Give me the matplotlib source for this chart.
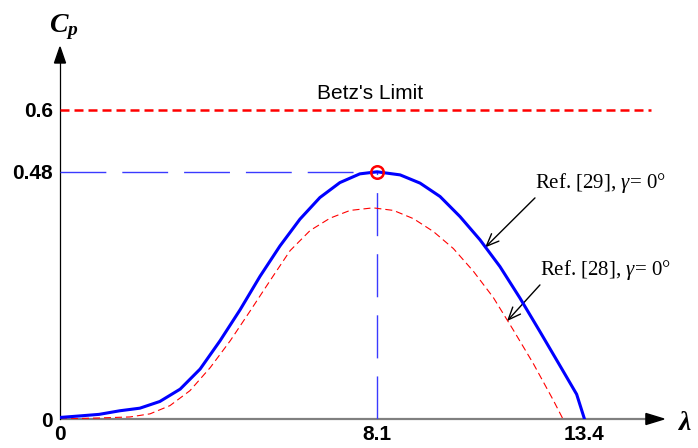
import matplotlib
matplotlib.use("Agg")
import matplotlib.pyplot as plt

plt.rcParams["mathtext.fontset"] = "custom"
plt.rcParams["mathtext.rm"] = "Liberation Serif"
plt.rcParams["mathtext.it"] = "Liberation Serif:italic"
plt.rcParams["mathtext.bf"] = "Liberation Serif:bold:italic"

# power coefficient vs tip speed ratio
tsr_29 = [0, 0.51, 1.0, 1.53, 2.04, 2.55, 3.07, 3.58, 4.09, 4.60, 5.11, 5.62,
          6.13, 6.64, 7.15, 7.66, 8.1, 8.69, 9.20, 9.71, 10.22, 10.73, 11.24,
          11.75, 12.26, 12.77, 13.20, 13.4]
cp_29 = [0.003, 0.006, 0.009, 0.016, 0.021, 0.034, 0.058, 0.097, 0.152,
         0.212, 0.277, 0.336, 0.388, 0.430, 0.459, 0.476, 0.480, 0.474,
         0.458, 0.432, 0.393, 0.348, 0.296, 0.235, 0.170, 0.104, 0.048, 0.0]

tsr_28 = [0, 1.0, 1.79, 2.30, 2.81, 3.32, 3.84, 4.35, 4.86, 5.37, 5.88, 6.39,
          6.90, 7.41, 8.0, 8.52, 9.03, 9.54, 10.05, 10.56, 11.07, 11.58,
          12.09, 12.60, 12.85]
cp_28 = [0.0, 0.002, 0.004, 0.010, 0.026, 0.055, 0.100, 0.152, 0.210, 0.269,
         0.327, 0.366, 0.390, 0.405, 0.410, 0.405, 0.389, 0.364, 0.331,
         0.287, 0.236, 0.173, 0.108, 0.037, 0.0]

betz = 0.6
tsr_opt = 8.1
cp_max = 0.48
xtick_vals = [0, 8.1, 13.4]
xtick_text = ["0", "8.1", "13.4"]
ytick_vals = [0, 0.48, 0.6]
ytick_text = ["0", "0.48", "0.6"]

W, H = 698, 448
fig = plt.figure(figsize=(W / 100, H / 100), dpi=100)
x0, x1, y0, y1 = 60, 660, 419, 47          # axes box in pixels
ax = fig.add_axes([x0 / W, (H - y0) / H, (x1 - x0) / W, (y0 - y1) / H])
xmax = (x1 - x0) / 39.14
ymax = (y0 - y1) / 515.0
ax.set_xlim(0, xmax)
ax.set_ylim(0, ymax)
for s in ax.spines.values():
    s.set_visible(False)

# axes with arrow heads
px = xmax / (x1 - x0)
py = ymax / (y0 - y1)
ax.plot([0, 14.97], [0, 0], color="#808080", lw=1.6, clip_on=False, zorder=2,
        solid_capstyle="butt")
ax.fill([14.97, 14.97 + 18 * px, 14.97], [5.5 * py, 0, -5.5 * py],
        color="black", clip_on=False, zorder=3)
ytop = ymax
ax.plot([0, 0], [0, ytop - 16 * py], color="black", lw=0.9, clip_on=False)
ax.fill([-5.5 * px, 0, 5.5 * px], [ytop - 16 * py, ytop, ytop - 16 * py],
        color="black", clip_on=False, zorder=3)

ax.set_xticks(xtick_vals, xtick_text)
ax.set_yticks(ytick_vals, ytick_text)
ax.tick_params(length=0, labelsize=15, pad=4)
ax.tick_params(axis="y", pad=5)
for lab in ax.get_xticklabels() + ax.get_yticklabels():
    lab.set_fontweight("bold")
    lab.set_fontfamily("Liberation Sans")

# Betz limit
ax.axhline(betz, xmin=0, xmax=15.1 / xmax, color="red", lw=1.8,
           dashes=(3.6, 2.0))
ax.text(7.92, 0.633, "Betz's Limit", ha="center", va="center", fontsize=15,
        family="Liberation Sans")

# optimum guide lines
ax.plot([0, tsr_opt], [cp_max, cp_max], color="#3a3aff", lw=1,
        dashes=(33, 11.5))
ax.plot([tsr_opt, tsr_opt], [0, cp_max], color="#3a3aff", lw=1,
        dashes=(31, 13))

ax.plot(tsr_28, cp_28, color="red", lw=0.8, dashes=(6.3, 3.6), zorder=4)
ax.plot(tsr_29, cp_29, color="#0000ff", lw=2.2, zorder=5)
ax.plot([tsr_opt], [cp_max], marker="o", ms=9, mfc="none", mec="red",
        mew=1.8, zorder=6)

arrow_kw = dict(arrowstyle="->,head_length=0.6,head_width=0.25",
                color="black", lw=1, shrinkA=0, shrinkB=0, relpos=(0.02, 0.0))
ax.annotate("Ref. [29], $\\gamma$= 0°", xy=(10.86, 0.333), xytext=(12.14, 0.458),
            fontsize=15, family="Liberation Serif", va="center", ha="left",
            arrowprops=arrow_kw)
ax.annotate("Ref. [28], $\\gamma$= 0°", xy=(11.42, 0.190), xytext=(12.26, 0.289),
            fontsize=15, family="Liberation Serif", va="center", ha="left",
            arrowprops=arrow_kw)

# axis titles
fig.text(49 / W, (H - 32) / H, r"$\mathbf{C_p}$", fontsize=20, ha="left",
         va="baseline")
fig.text(678 / W, (H - 430) / H, r"$\mathbf{\lambda}$", fontsize=20,
         ha="left", va="baseline")

fig.savefig("out.png", dpi=100)
